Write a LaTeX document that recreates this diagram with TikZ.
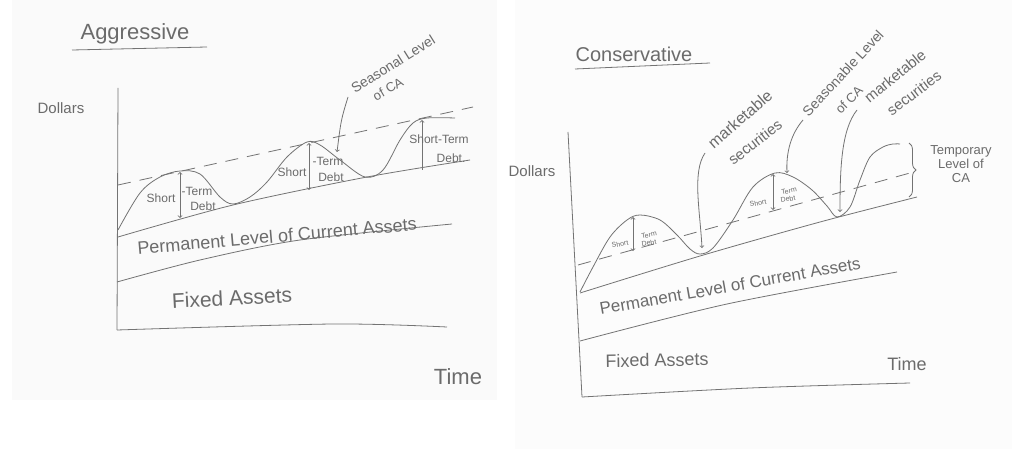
\documentclass[tikz,border=0pt]{standalone}
\usepackage{fontspec}
\setmainfont{Liberation Sans}
\usetikzlibrary{decorations.pathreplacing}

\newcommand{\handsize}[1]{\fontsize{#1}{#1}\selectfont}
\tikzset{
  pencil/.style={draw=black!55, line width=0.8pt},
  hand/.style={text=black!58, inner sep=0pt},
  pdash/.style={pencil, dash pattern=on 13pt off 9pt},
}

\begin{document}
\begin{tikzpicture}[x=1pt,y=-1pt]
\useasboundingbox (0,0) rectangle (1033,449);
\fill[black!2] (12,0) rectangle (497,400);
\fill[black!1] (515,0) rectangle (1012,449);

% ---- aggressive policy ----
\node[hand,font=\handsize{22}] (aggr) at (135,34) {Aggressive};
\coordinate (aggrL) at (72,50);
\coordinate (aggrR) at (207,47);
\draw[pencil] (aggrL) -- (aggrR);
\node[hand,font=\handsize{15}] (dollarsA) at (61,108) {Dollars};
\node[hand,font=\handsize{22}] (timeA) at (458,377) {Time};

\draw[pencil] (118,88) -- (117,330);
\draw[pencil] plot[smooth] coordinates {(117,330) (333,324) (447,327)};
\draw[pencil] plot[smooth] coordinates {(117,282) (200,260) (300,240) (452,224)};
\draw[pencil] plot[smooth] coordinates {(118,237) (233,205) (367,177) (470,160)};
\draw[pdash] (118,185) -- (473,107);
\draw[pencil] plot[smooth,tension=0.55] coordinates {(118,230) (140,193) (160,177) (180,171) (200,174) (220,197) (233,204) (250,197) (267,182) (287,157) (307,142) (320,145) (340,160) (365,177) (383,170) (400,140) (413,123) (427,118) (455,118)};

\node[hand,font=\handsize{18},rotate=5] (permA) at (277,236) {Permanent Level of Current Assets};
\node[hand,font=\handsize{21},rotate=3] (fixedA) at (232,298) {Fixed Assets};

\coordinate (topA1) at (180,172); \coordinate (botA1) at (180,218);
\coordinate (topA2) at (309,143); \coordinate (botA2) at (309,190);
\coordinate (topA3) at (422,120); \coordinate (botA3) at (422,170);
\draw[pencil,<->] (topA1) -- (botA1);
\draw[pencil,<->] (topA2) -- (botA2);
\draw[pencil,->] (botA3) -- (topA3);

\node[hand,font=\handsize{12}] (shortA1) at (161,198) {Short};
\node[hand,font=\handsize{12}] (termA1) at (197,191) {-Term};
\node[hand,font=\handsize{12}] (debtA1) at (203,206) {Debt};
\node[hand,font=\handsize{12}] (shortA2) at (292,172) {Short};
\node[hand,font=\handsize{12}] (termA2) at (328,161) {-Term};
\node[hand,font=\handsize{12}] (debtA2) at (331,177) {Debt};
\node[hand,font=\handsize{12}] (shortA3) at (439,139) {Short-Term};
\node[hand,font=\handsize{12}] (debtA3) at (451,158) {Debt.};

\node[hand,font=\handsize{14},rotate=32] (seasA) at (393,64) {Seasonal Level};
\node[hand,font=\handsize{13},rotate=30] (seasAca) at (388,89) {of CA};
\coordinate (seasAfrom) at (348,97);
\coordinate (seasAto) at (337,152);
\draw[pencil,->] (seasAfrom) .. controls (341,120) .. (seasAto);

% ---- conservative policy ----
\node[hand,font=\handsize{20}] (cons) at (634,54) {Conservative};
\coordinate (consL) at (575,69);
\coordinate (consR) at (710,63);
\draw[pencil] (consL) -- (consR);
\node[hand,font=\handsize{15}] (dollarsC) at (532,171) {Dollars};
\node[hand,font=\handsize{18}] (timeC) at (907,364) {Time};

\draw[pencil] (568,132) -- (582,397);
\draw[pencil] plot[smooth] coordinates {(582,397) (750,388) (910,383)};
\draw[pencil] plot[smooth] coordinates {(580,341) (727,304) (897,272)};
\draw[pencil] plot[smooth] coordinates {(580,293) (700,256) (820,222) (917,197)};
\draw[pdash] (578,265) -- (910,173);
\draw[pencil] plot[smooth,tension=0.55] coordinates {(580,292) (593,267) (610,237) (627,220) (640,215) (660,220) (677,235) (690,249) (700,254) (713,248) (733,220) (753,187) (775,173) (793,177) (812,190) (827,206) (837,217) (850,207) (860,180) (870,157) (883,147) (893,144) (900,144)};

\node[hand,font=\handsize{17},rotate=10] (permC) at (730,286) {Permanent Level of Current Assets};
\node[hand,font=\handsize{18},rotate=1] (fixedC) at (657,360) {Fixed Assets};

\coordinate (topC1) at (633,217); \coordinate (botC1) at (633,251);
\coordinate (topC2) at (773,174); \coordinate (botC2) at (773,210);
\draw[pencil,<->] (topC1) -- (botC1);
\draw[pencil,<->] (topC2) -- (botC2);
\node[hand,font=\handsize{7},rotate=10] (shortC1) at (620,244) {Short};
\node[hand,font=\handsize{7},rotate=10] (termC1) at (649,235) {Term};
\node[hand,font=\handsize{7},rotate=10] (debtC1) at (649,243) {Debt};
\node[hand,font=\handsize{7},rotate=10] (shortC2) at (758,203) {Short};
\node[hand,font=\handsize{7},rotate=10] (termC2) at (789,191) {Term};
\node[hand,font=\handsize{7},rotate=10] (debtC2) at (788,199) {Debt};

\node[hand,font=\handsize{16},rotate=41] (mktC1) at (740,119) {marketable};
\node[hand,font=\handsize{15},rotate=38] (secC1) at (755,142) {securities};
\node[hand,font=\handsize{14},rotate=47] (seasC) at (843,73) {Seasonable Level};
\node[hand,font=\handsize{13},rotate=45] (seasCca) at (849,100) {of CA};
\node[hand,font=\handsize{15},rotate=39] (mktC2) at (895,76) {marketable};
\node[hand,font=\handsize{15},rotate=37] (secC2) at (914,93) {securities};

\coordinate (mktC1from) at (705,153); \coordinate (mktC1to) at (702,248);
\coordinate (seasCfrom) at (803,120); \coordinate (seasCto) at (787,173);
\coordinate (mktC2from) at (857,110); \coordinate (mktC2to) at (840,212);
\draw[pencil,->] (mktC1from) .. controls (692,172) and (700,210) .. (mktC1to);
\draw[pencil,->] (seasCfrom) .. controls (791,134) and (786,152) .. (seasCto);
\draw[pencil,->] (mktC2from) .. controls (841,130) and (840,170) .. (mktC2to);

\coordinate (braceTop) at (909,143);
\coordinate (braceBot) at (909,197);
\draw[pencil,decorate,decoration={brace,amplitude=7pt}] (braceTop) -- (braceBot);
\node[hand,font=\handsize{13},align=center] (tempC) at (961,164) {Temporary\\[1pt]Level of\\[1pt]CA};

\end{tikzpicture}
\end{document}
